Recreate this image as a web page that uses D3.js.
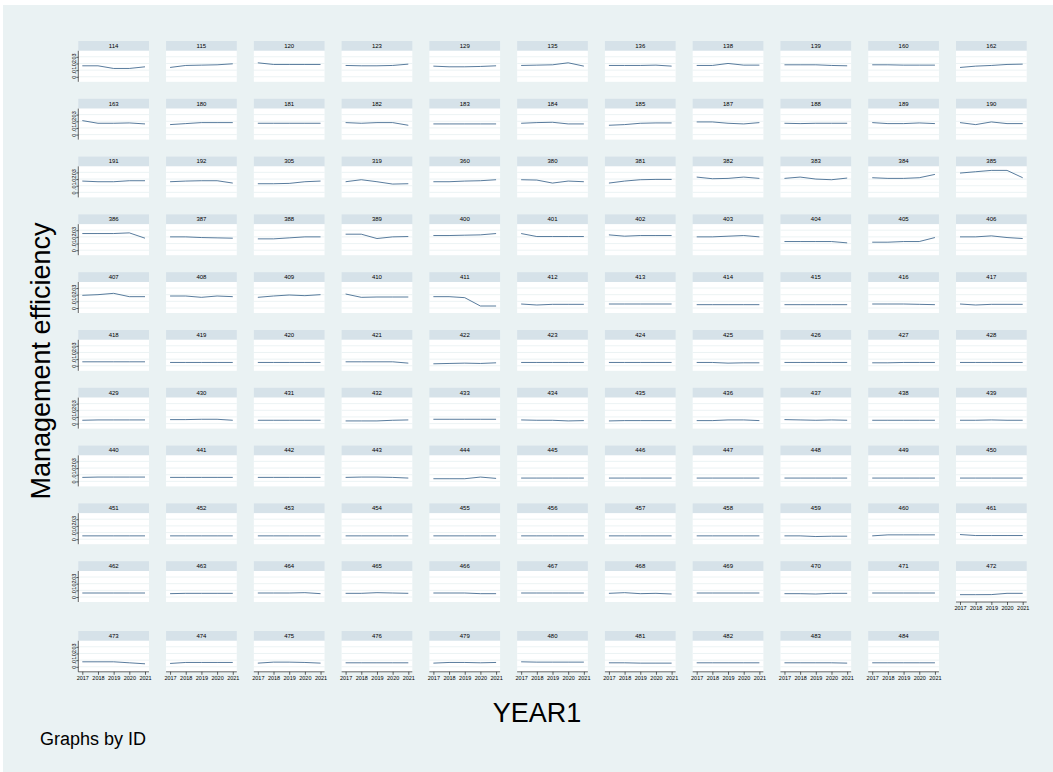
<!DOCTYPE html>
<html>
<head>
<meta charset="utf-8">
<script src="https://cdnjs.cloudflare.com/ajax/libs/d3/7.8.5/d3.min.js"></script>
<style>
body{margin:0;background:#fff}
svg{display:block;font-family:"Liberation Sans",Arial,sans-serif}
</style>
</head>
<body>
<div id="chart"></div>
<script>
var years = [2017, 2018, 2019, 2020, 2021];
var yTicks = [0, .01, .02, .03];
var yTickLabels = ['0', '.01', '.02', '.03'];
var ids = [114,115,120,123,129,135,136,138,139,160,162,
  163,180,181,182,183,184,185,187,188,189,190,
  191,192,305,319,360,380,381,382,383,384,385,
  386,387,388,389,400,401,402,403,404,405,406,
  407,408,409,410,411,412,413,414,415,416,417,
  418,419,420,421,422,423,424,425,426,427,428,
  429,430,431,432,433,434,435,436,437,438,439,
  440,441,442,443,444,445,446,447,448,449,450,
  451,452,453,454,455,456,457,458,459,460,461,
  462,463,464,465,466,467,468,469,470,471,472,
  473,474,475,476,479,480,481,482,483,484];
// management efficiency by ID, one value per year
var efficiency = [
  [.0165,.0165,.0125,.0125,.015],[.014,.017,.0175,.018,.0195],[.021,.0185,.0185,.0185,.0185],[.017,.0165,.0165,.017,.019],
  [.016,.015,.015,.0155,.0165],[.017,.0175,.018,.021,.016],[.017,.017,.017,.0175,.016],[.017,.017,.02,.0175,.0175],
  [.018,.018,.018,.017,.0165],[.018,.018,.0175,.0175,.0175],[.014,.016,.017,.0185,.019],
  [.021,.017,.017,.0175,.016],[.015,.0165,.018,.018,.018],[.017,.017,.017,.017,.017],[.018,.017,.018,.018,.014],
  [.016,.016,.016,.016,.016],[.017,.018,.0185,.016,.016],[.014,.015,.017,.0175,.0175],[.019,.019,.017,.016,.018],
  [.017,.0165,.017,.017,.017],[.018,.0165,.0165,.0175,.0165],[.018,.015,.019,.0165,.0165],
  [.017,.016,.016,.0175,.0175],[.016,.017,.0175,.0175,.014],[.013,.013,.0135,.016,.017],[.016,.019,.016,.0125,.013],
  [.016,.016,.017,.0175,.019],[.019,.0185,.014,.017,.016],[.014,.017,.019,.0195,.0195],[.023,.0205,.021,.023,.021],
  [.021,.023,.02,.019,.0215],[.022,.021,.021,.022,.027],[.029,.031,.033,.033,.022],
  [.025,.025,.025,.026,.018],[.02,.02,.019,.0185,.018],[.017,.017,.0185,.02,.02],[.024,.024,.0175,.02,.0205],
  [.022,.022,.0225,.023,.025],[.025,.0205,.0205,.0205,.0205],[.023,.021,.022,.022,.022],[.02,.02,.021,.022,.02],
  [.013,.013,.013,.013,.011],[.012,.012,.013,.013,.019],[.02,.02,.0215,.019,.0175],
  [.019,.02,.022,.017,.017],[.018,.018,.016,.018,.017],[.016,.018,.0195,.0185,.02],[.021,.016,.0165,.0165,.0165],
  [.017,.017,.0155,.003,.003],[.006,.0045,.0055,.0055,.0055],[.006,.006,.006,.006,.006],[.005,.005,.005,.005,.005],
  [.005,.005,.005,.005,.005],[.006,.006,.006,.0055,.005],[.006,.0045,.0055,.0055,.0055],
  [.006,.006,.006,.006,.006],[.005,.005,.005,.005,.005],[.005,.005,.005,.005,.005],[.006,.006,.006,.006,.004],
  [.003,.0035,.004,.0035,.0045],[.005,.005,.005,.005,.005],[.005,.005,.005,.005,.005],[.005,.005,.004,.0045,.0045],
  [.005,.005,.005,.005,.005],[.0045,.0045,.005,.005,.005],[.005,.005,.005,.005,.005],
  [.005,.0055,.0055,.0055,.0055],[.006,.006,.0065,.0065,.005],[.005,.005,.005,.005,.005],[.004,.004,.004,.005,.0055],
  [.0065,.0065,.0065,.0065,.0065],[.0055,.005,.005,.004,.0045],[.004,.0045,.0045,.0045,.0045],[.0045,.0045,.0055,.0055,.0045],
  [.006,.0055,.005,.0055,.005],[.005,.005,.005,.005,.005],[.005,.005,.0055,.005,.005],
  [.006,.0065,.0065,.0065,.0065],[.006,.006,.006,.006,.006],[.006,.006,.006,.006,.006],[.006,.0065,.0065,.006,.005],
  [.004,.004,.004,.0065,.0045],[.005,.005,.005,.005,.005],[.005,.005,.005,.005,.005],[.005,.005,.005,.005,.005],
  [.005,.005,.005,.005,.005],[.005,.005,.005,.005,.005],[.005,.005,.005,.005,.005],
  [.005,.005,.005,.005,.005],[.005,.005,.005,.005,.005],[.005,.005,.005,.005,.005],[.005,.005,.005,.005,.005],
  [.005,.005,.005,.005,.005],[.005,.005,.005,.005,.005],[.005,.005,.005,.005,.005],[.005,.005,.005,.005,.005],
  [.005,.005,.004,.0045,.0045],[.005,.0065,.0065,.0065,.0065],[.007,.0055,.0055,.0055,.0055],
  [.006,.006,.006,.006,.006],[.005,.0055,.0055,.0055,.0055],[.006,.006,.006,.0065,.005],[.0055,.0055,.0065,.006,.0055],
  [.006,.006,.006,.005,.005],[.006,.006,.006,.006,.006],[.0055,.0065,.005,.0055,.0045],[.006,.006,.006,.006,.006],
  [.005,.005,.0045,.0055,.0055],[.006,.006,.006,.006,.006],[.0035,.0035,.0036,.0055,.0055],
  [.0075,.0075,.0075,.006,.0045],[.005,.0065,.0065,.0065,.0065],[.0055,.007,.007,.0065,.0055],[.006,.006,.006,.006,.006],
  [.0055,.0065,.0065,.006,.0065],[.0075,.007,.007,.007,.007],[.006,.006,.0055,.0055,.0055],[.006,.006,.006,.006,.006],
  [.006,.006,.006,.006,.0055],[.006,.006,.006,.006,.006]
];

var W = 1053, H = 772, ncol = 11;
var panelW = 70.7, stripH = 9.8, plotH = 31;
var colStep = 87.77, rowStep = 57.8, left0 = 78.3, top0 = 41;
var nrow = Math.ceil(ids.length / ncol);

var svg = d3.select('#chart').append('svg').attr('width', W).attr('height', H);
svg.append('rect').attr('x', 3).attr('y', 5).attr('width', W - 3).attr('height', H - 5).attr('fill', '#eaf2f3');

var x = d3.scaleLinear().domain([2017, 2021]).range([4, panelW - 4]);
var y = d3.scaleLinear().domain([-0.0075, 0.039]).range([plotH, 0]);
var line = d3.line()
  .x(function(d, i){ return x(years[i]); })
  .y(function(d){ return y(d); });

ids.forEach(function(id, k){
  var r = Math.floor(k / ncol), c = k % ncol;
  var px = left0 + c * colStep;
  var py = top0 + r * rowStep + (r == nrow - 1 ? 12 : 0);
  var g = svg.append('g').attr('transform', 'translate(' + px + ',' + py + ')');

  g.append('rect').attr('width', panelW).attr('height', stripH).attr('fill', '#d6e2e9');
  g.append('text').attr('x', panelW / 2).attr('y', stripH / 2 + 2)
    .attr('text-anchor', 'middle').style('font-size', '6px').text(id);

  var p = g.append('g').attr('transform', 'translate(0,' + stripH + ')');
  p.append('rect').attr('width', panelW).attr('height', plotH).attr('fill', '#fff');
  p.selectAll('.grid').data(yTicks).enter().append('line')
    .attr('x1', 0).attr('x2', panelW)
    .attr('y1', function(d){ return y(d); }).attr('y2', function(d){ return y(d); })
    .attr('stroke', '#eaf2f3').attr('stroke-width', 0.9);
  p.append('path').datum(efficiency[k]).attr('d', line)
    .attr('fill', 'none').attr('stroke', '#2f5b84').attr('stroke-width', 0.8);

  if (c == 0) {
    var ya = p.append('g').call(d3.axisLeft(y).tickValues(yTicks)
      .tickFormat(function(d, i){ return yTickLabels[i]; }).tickSize(2).tickSizeOuter(0));
    ya.select('.domain').remove();
    ya.selectAll('line').attr('stroke', '#000').attr('stroke-width', 0.6);
    ya.selectAll('text').attr('x', 0).attr('dy', 0).attr('text-anchor', 'middle')
      .attr('transform', 'translate(-2.6,0) rotate(-90)').style('font-size', '5.5px').attr('fill', '#000');
    p.append('line').attr('x1', 0).attr('x2', 0).attr('y1', 0).attr('y2', plotH)
      .attr('stroke', '#000').attr('stroke-width', 0.6);
  }
  if (k + ncol >= ids.length) {
    var xa = p.append('g').attr('transform', 'translate(0,' + plotH + ')')
      .call(d3.axisBottom(x).tickValues(years).tickFormat(d3.format('d')).tickSize(3).tickSizeOuter(0).tickPadding(1));
    xa.select('.domain').remove();
    xa.selectAll('line').attr('stroke', '#000').attr('stroke-width', 0.6);
    xa.selectAll('text').style('font-size', '5.5px').attr('fill', '#000');
    p.append('line').attr('x1', 0).attr('x2', panelW).attr('y1', plotH).attr('y2', plotH)
      .attr('stroke', '#000').attr('stroke-width', 0.6);
  }
});

svg.append('text').attr('transform', 'translate(50,361) rotate(-90)')
  .attr('text-anchor', 'middle').style('font-size', '27px').text('Management efficiency');
svg.append('text').attr('x', 537).attr('y', 722)
  .attr('text-anchor', 'middle').style('font-size', '27px').text('YEAR1');
svg.append('text').attr('x', 40).attr('y', 745).style('font-size', '18px').text('Graphs by ID');
</script>
</body>
</html>
